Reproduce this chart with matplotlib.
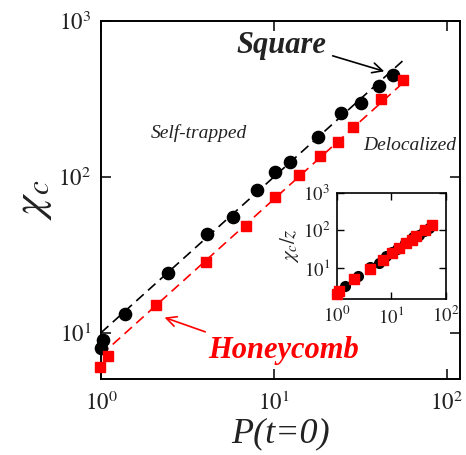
import numpy as np
import matplotlib
matplotlib.use("Agg")
import matplotlib.pyplot as plt
from matplotlib.ticker import NullLocator

plt.rcParams['font.family'] = ['Liberation Serif', 'DejaVu Serif']
plt.rcParams['mathtext.fontset'] = 'stix'

# square lattice (z = 4)
sq_p = [1.0, 1.03, 1.38, 2.43, 4.08, 5.82, 7.94, 10.1, 12.4, 17.9, 24.4, 31.8, 40.3, 48.9]
sq_chi = [8.0, 9.0, 13.2, 24.1, 43.0, 55.0, 83.0, 108, 125, 181, 258, 299, 385, 449]
sq_z = 4

# honeycomb lattice (z = 3)
hc_p = [0.99, 1.10, 2.07, 4.03, 6.86, 10.2, 13.9, 18.4, 23.4, 28.7, 41.5, 55.9]
hc_chi = [6.0, 7.05, 15.0, 28.4, 48.5, 74.8, 103, 136, 168, 208, 315, 419]
hc_z = 3

# dashed guide lines (end points)
sq_fit_p = [1.0, 56.0]
sq_fit_chi = [10.0, 560.0]
hc_fit_p = [1.0, 56.0]
hc_fit_chi = [7.2, 403.0]

txt = '#222222'

fig = plt.figure(figsize=(4.66, 4.55), dpi=100)
ax = fig.add_axes([0.2167, 0.167, 0.7704, 0.7868])

ax.plot(sq_fit_p, sq_fit_chi, color='black', ls=(0, (6, 3.5)), lw=1.2, zorder=2)
ax.plot(hc_fit_p, hc_fit_chi, color='red', ls=(0, (6, 3.5)), lw=1.2, zorder=2)
ax.plot(sq_p, sq_chi, 'o', color='black', ms=8.8, zorder=3, clip_on=False)
ax.plot(hc_p, hc_chi, 's', color='red', ms=7.6, zorder=3, clip_on=False)

ax.set_xscale('log')
ax.set_yscale('log')
ax.set_xlim(1, 119)
ax.set_ylim(5.05, 1000)
ax.xaxis.set_minor_locator(NullLocator())
ax.yaxis.set_minor_locator(NullLocator())
ax.set_xticks([1, 10, 100])
ax.set_xticklabels([r'$10^{0}$', r'$10^{1}$', r'$10^{2}$'])
ax.set_yticks([10, 100, 1000])
ax.set_yticklabels([r'$10^{1}$', r'$10^{2}$', r'$10^{3}$'])
ax.tick_params(which='both', direction='in', top=True, right=True, length=7,
               width=1.1, labelsize=16.5, labelcolor=txt)
ax.tick_params(axis='x', pad=9)
ax.tick_params(axis='y', pad=7)
for s in ax.spines.values():
    s.set_linewidth(1.4)

ax.set_xlabel('P(t=0)', fontsize=26, fontstyle='italic', color=txt, labelpad=2)
ax.set_ylabel(r'$\chi_c$', fontsize=32, color=txt, labelpad=3)

ax.text(11.0, 700, 'Square', fontsize=22, fontweight='bold', fontstyle='italic',
        color=txt, ha='center', va='center')
ax.annotate('', xy=(45, 470), xytext=(21.1, 605),
            arrowprops=dict(arrowstyle='->', color='black', lw=1.2,
                            mutation_scale=18))
ax.text(11.4, 7.7, 'Honeycomb', fontsize=22, fontweight='bold', fontstyle='italic',
        color='red', ha='center', va='center')
ax.annotate('', xy=(2.25, 12.7), xytext=(4.15, 10.0),
            arrowprops=dict(arrowstyle='->', color='red', lw=1.2,
                            mutation_scale=18))
ax.text(3.66, 191, 'Self-trapped', fontsize=14, fontstyle='italic', color=txt,
        ha='center', va='center')
ax.text(61.1, 160, 'Delocalized', fontsize=14, fontstyle='italic', color=txt,
        ha='center', va='center')

# inset: chi_c / z
ins = fig.add_axes([0.7232, 0.3429, 0.2338, 0.2329])
ins.plot(sq_p, np.array(sq_chi) / sq_z, 'o', color='black', ms=7, clip_on=False, zorder=3)
ins.plot(hc_p, np.array(hc_chi) / hc_z, 's', color='red', ms=7, clip_on=False, zorder=4)
ins.set_xscale('log')
ins.set_yscale('log')
ins.set_xlim(1, 100)
ins.set_ylim(1.45, 1000)
ins.xaxis.set_minor_locator(NullLocator())
ins.yaxis.set_minor_locator(NullLocator())
ins.set_xticks([1, 10, 100])
ins.set_xticklabels([r'$10^{0}$', r'$10^{1}$', r'$10^{2}$'])
ins.set_yticks([10, 100, 1000])
ins.set_yticklabels([r'$10^{1}$', r'$10^{2}$', r'$10^{3}$'])
ins.tick_params(which='both', direction='in', top=True, right=True, length=5,
                width=1.0, labelsize=13.5, labelcolor=txt, pad=5)
for s in ins.spines.values():
    s.set_linewidth(1.2)
ins.set_ylabel(r'$\chi_c/z$', fontsize=15, color=txt, labelpad=1)

fig.savefig('out.png', dpi=100)
